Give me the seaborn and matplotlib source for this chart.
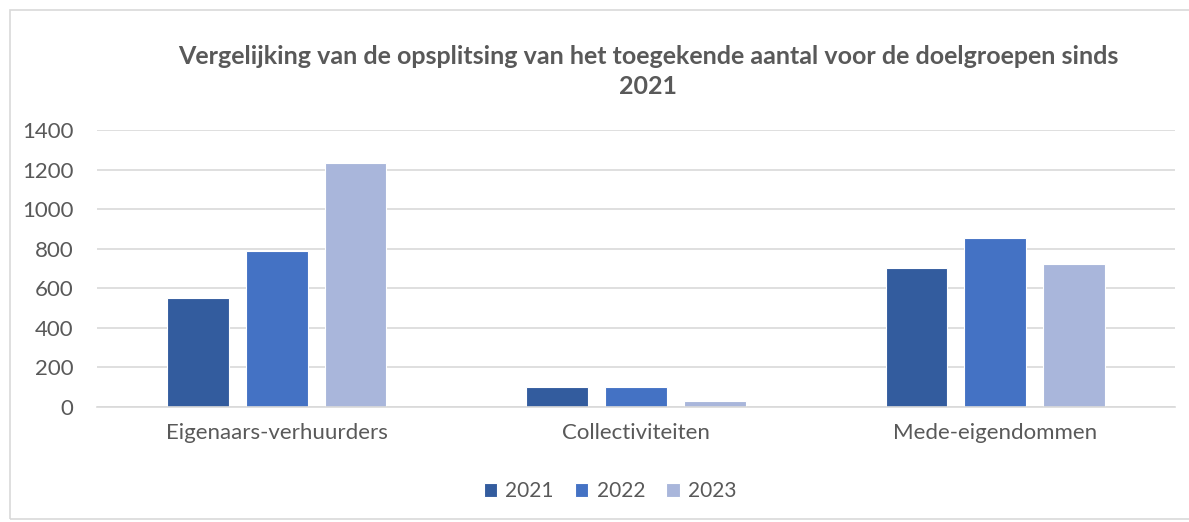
import numpy as np
import pandas as pd
import seaborn as sns
from matplotlib import pyplot as plt
from matplotlib.patches import Rectangle

categories = ["Eigenaars-verhuurders", "Collectiviteiten", "Mede-eigendommen"]
years = ["2021", "2022", "2023"]
values_2021 = [552, 98, 702]
values_2022 = [788, 98, 855]
values_2023 = [1232, 27, 721]

# long form table for seaborn
rows = []
for yr, vals in zip(years, [values_2021, values_2022, values_2023]):
    for cat, v in zip(categories, vals):
        rows.append({"categorie": cat, "jaar": yr, "aantal": v})
df = pd.DataFrame(rows)

sns.set_style("white")
plt.rcParams['font.family'] = ['Lato', 'DejaVu Sans']
grey = "#595959"
colors = ["#335C9E", "#4472C4", "#A9B6DB"]

fig = plt.figure(figsize=(11.89, 5.22), dpi=100)
ax = fig.add_axes([97 / 1189, 1 - 406.7 / 522, (1175 - 97) / 1189, (406.7 - 130) / 522])

sns.barplot(data=df, x="categorie", y="aantal", hue="jaar", order=categories,
            hue_order=years, palette=colors, saturation=1, width=0.658, gap=0.215,
            edgecolor="white", linewidth=0.8, ax=ax, legend=True)

ax.set_ylim(0, 1400)
ax.set_xlim(-0.5, 2.5)
ax.set_yticks(range(0, 1401, 200))
ax.yaxis.grid(True, color="#D9D9D9", linewidth=1.2)
ax.set_axisbelow(True)
for s in ["left", "right", "top"]:
    ax.spines[s].set_visible(False)
ax.spines["bottom"].set_color("#D9D9D9")
ax.spines["bottom"].set_linewidth(1.2)
ax.set_xlabel("")
ax.set_ylabel("")
ax.tick_params(axis="both", length=0, labelsize=16, labelcolor=grey)
ax.tick_params(axis="x", pad=12)
ax.tick_params(axis="y", pad=17)

handles, labels = ax.get_legend_handles_labels()
ax.legend_.remove()
fig.legend(handles, labels, loc="center", bbox_to_anchor=(610 / 1189, 1 - 491 / 522),
           ncol=3, frameon=False, fontsize=15, labelcolor=grey,
           handlelength=0.65, handleheight=0.65, handletextpad=0.4, columnspacing=1.0)

fig.text(648 / 1189, 1 - 57 / 522,
         "Vergelijking van de opsplitsing van het toegekende aantal voor de doelgroepen sinds",
         ha="center", va="center", fontsize=18, fontweight="bold", color=grey)
fig.text(648 / 1189, 1 - 86 / 522, "2021",
         ha="center", va="center", fontsize=18, fontweight="bold", color=grey)

fig.patches.append(Rectangle((10 / 1189, 0.005), 1.2, 1 - 10 / 522 - 0.005,
                             transform=fig.transFigure, fill=False,
                             edgecolor="#D9D9D9", linewidth=1.2))

plt.savefig("out.png", dpi=100)
plt.close()
